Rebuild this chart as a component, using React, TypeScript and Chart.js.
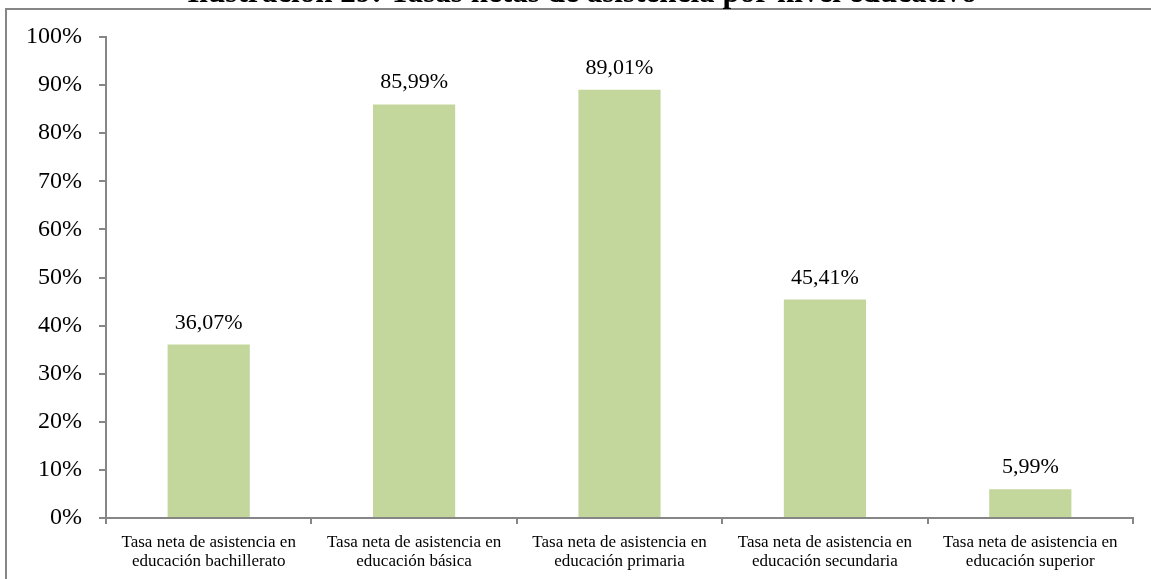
import React, { useEffect, useRef } from "react";
import { Chart, registerables } from "chart.js";

Chart.register(...registerables);

const TITLE = "Ilustración 29: Tasas netas de asistencia por nivel educativo";
const CATEGORIES: string[][] = [
  ["Tasa neta de asistencia en", "educación bachillerato"],
  ["Tasa neta de asistencia en", "educación básica"],
  ["Tasa neta de asistencia en", "educación primaria"],
  ["Tasa neta de asistencia en", "educación secundaria"],
  ["Tasa neta de asistencia en", "educación superior"],
];
const VALUES: number[] = [36.07, 85.99, 89.01, 45.41, 5.99];
const Y_MIN = 0;
const Y_MAX = 100;
const Y_STEP = 10;

const GRAY = "#868686";
const BAR = "#C3D69B";
const SERIF = "'Liberation Serif', 'Times New Roman', serif";

const fmt = (v: number) => v.toFixed(2).replace(".", ",") + "%";

const framePlugin = {
  id: "frame",
  beforeDraw(chart: any) {
    const ctx = chart.ctx;
    ctx.save();
    ctx.fillStyle = "#ffffff";
    ctx.fillRect(0, 0, chart.width, chart.height);
    ctx.strokeStyle = GRAY;
    ctx.lineWidth = 2;
    ctx.beginPath();
    ctx.moveTo(6, chart.height + 2);
    ctx.lineTo(6, 9);
    ctx.lineTo(chart.width + 2, 9);
    ctx.stroke();
    // title, mostly cut off at the top
    ctx.fillStyle = "#000000";
    ctx.font = `bold 20px ${SERIF}`;
    const w = ctx.measureText(TITLE).width;
    const size = (20 * 790) / w;
    ctx.font = `bold ${size}px ${SERIF}`;
    ctx.textAlign = "center";
    ctx.textBaseline = "alphabetic";
    ctx.fillText(TITLE, 582, 1.5);
    ctx.restore();
  },
};

const labelPlugin = {
  id: "barLabels",
  afterDatasetsDraw(chart: any) {
    const ctx = chart.ctx;
    const meta = chart.getDatasetMeta(0);
    ctx.save();
    ctx.fillStyle = "#000000";
    ctx.font = `22px ${SERIF}`;
    ctx.textAlign = "center";
    ctx.textBaseline = "alphabetic";
    meta.data.forEach((el: any, i: number) => {
      ctx.fillText(fmt(VALUES[i]), el.x, el.y - 16);
    });
    ctx.restore();
  },
};

export default function App() {
  const ref = useRef<HTMLCanvasElement | null>(null);
  useEffect(() => {
    if (!ref.current) return;
    const chart = new Chart(ref.current, {
      type: "bar",
      data: {
        labels: CATEGORIES,
        datasets: [
          {
            data: VALUES,
            backgroundColor: BAR,
            borderWidth: 0,
            barPercentage: 0.4,
            categoryPercentage: 1.0,
          },
        ],
      },
      options: {
        responsive: false,
        animation: false,
        layout: { padding: { top: 37, right: 18, bottom: 0, left: 0 } },
        plugins: {
          legend: { display: false },
          tooltip: { enabled: false },
          title: { display: false },
        },
        scales: {
          x: {
            offset: true,
            grid: {
              offset: true,
              drawOnChartArea: false,
              drawTicks: true,
              tickLength: 6,
              color: GRAY,
              lineWidth: 2,
            },
            border: { color: GRAY, width: 2 },
            ticks: {
              color: "#000000",
              font: { family: SERIF, size: 17, lineHeight: 1.12 },
              padding: 9,
              maxRotation: 0,
              autoSkip: false,
            },
            afterFit(scale: any) {
              scale.height = 61;
            },
          },
          y: {
            min: Y_MIN,
            max: Y_MAX,
            grid: {
              drawOnChartArea: false,
              drawTicks: true,
              tickLength: 7,
              color: GRAY,
              lineWidth: 2,
            },
            border: { color: GRAY, width: 2 },
            ticks: {
              stepSize: Y_STEP,
              color: "#000000",
              font: { family: SERIF, size: 24 },
              padding: 17,
              callback: (v: any) => v + "%",
            },
            afterFit(scale: any) {
              scale.width = 106;
            },
          },
        },
      },
      plugins: [framePlugin, labelPlugin],
    });
    return () => chart.destroy();
  }, []);

  return (
    <div style={{ position: "absolute", left: 0, top: 0, width: 1151, height: 579, background: "#fff" }}>
      <canvas ref={ref} width={1151} height={579} style={{ display: "block" }} />
    </div>
  );
}
